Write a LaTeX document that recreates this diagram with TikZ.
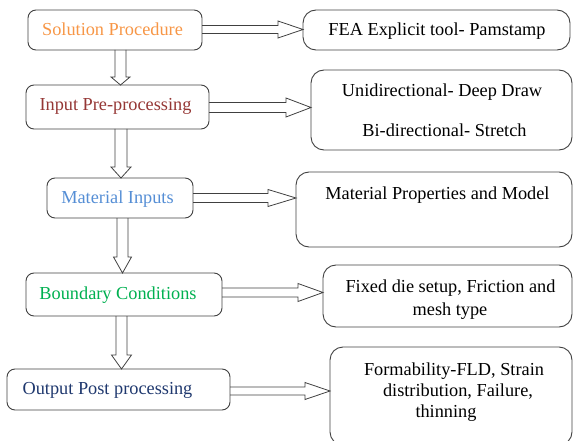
\documentclass[tikz,border=0pt]{standalone}
\usepackage{fontspec}
\setmainfont{Liberation Serif}
\usetikzlibrary{calc}
\definecolor{cOrange}{RGB}{247,150,70}
\definecolor{cRed}{RGB}{149,55,53}
\definecolor{cBlue}{RGB}{85,142,213}
\definecolor{cGreen}{RGB}{0,176,80}
\definecolor{cNavy}{RGB}{31,56,110}
\definecolor{cLine}{RGB}{64,64,64}
\newcommand\vblk[6]{%
 \draw[blk] let \p1=(#1), \p2=(#2) in
 ({#3-#5},\y1) -- ({#3-#5},\y2+#4pt) -- ({#3-#6},\y2+#4pt) -- (#3,\y2) -- ({#3+#6},\y2+#4pt) -- ({#3+#5},\y2+#4pt) -- ({#3+#5},\y1);}
\newcommand\hblk[6]{%
 \draw[blk] let \p1=(#1), \p2=(#2) in
 (\x1,{#3-#5}) -- (\x2-#4pt,{#3-#5}) -- (\x2-#4pt,{#3-#6}) -- (\x2,{#3}) -- (\x2-#4pt,{#3+#6}) -- (\x2-#4pt,{#3+#5}) -- (\x1,{#3+#5});}
\begin{document}
\begin{tikzpicture}[x=1pt,y=-1pt,
  lbox/.style={draw=cLine,line width=0.9pt,rounded corners=8pt,rectangle,inner sep=0pt,outer sep=0pt},
  rbox/.style={draw=cLine,line width=0.9pt,rounded corners=13pt,rectangle,inner sep=0pt,outer sep=0pt},
  blk/.style={draw=cLine,line width=0.8pt,line join=miter},
  lbl/.style={inner sep=0pt,anchor=base,font=\fontsize{18.3}{22}\selectfont}]
\useasboundingbox (0,0) rectangle (573,441);
% left boxes
\node[lbox,minimum width=174pt,minimum height=40pt] (b1) at (115,30) {};
\node[lbox,minimum width=183pt,minimum height=44pt] (b2) at (117.5,107) {};
\node[lbox,minimum width=146pt,minimum height=40pt] (b3) at (120,198) {};
\node[lbox,minimum width=196pt,minimum height=43pt] (b4) at (124,294.5) {};
\node[lbox,minimum width=223pt,minimum height=41pt] (b5) at (118.5,389.5) {};
% right boxes
\node[rbox,minimum width=267pt,minimum height=40pt] (r1) at (436.5,30) {};
\node[rbox,minimum width=261pt,minimum height=80pt] (r2) at (441.5,110) {};
\node[rbox,minimum width=276pt,minimum height=75pt] (r3) at (434,209.5) {};
\node[rbox,minimum width=249pt,minimum height=62pt] (r4) at (447.5,296) {};
\node[rbox,minimum width=242pt,minimum height=98pt] (r5) at (451,396) {};
% left labels
\node[lbl,text=cOrange] (t1) at (112.5,35.6) {Solution Procedure};
\node[lbl,text=cRed] (t2) at (115.5,111) {Input Pre-processing};
\node[lbl,text=cBlue] (t3) at (117.5,203.3) {Material Inputs};
\node[lbl,text=cGreen] (t4) at (118,299) {Boundary Conditions};
\node[lbl,text=cNavy] (t5) at (107.5,394.3) {Output Post processing};
% right labels
\node[lbl] (u1) at (437,35.7) {FEA Explicit tool- Pamstamp};
\node[lbl] (u2a) at (442,96.6) {Unidirectional- Deep Draw};
\node[lbl] (u2b) at (444.5,136.6) {Bi-directional- Stretch};
\node[lbl] (u3) at (437.5,200) {Material Properties and Model};
\node[lbl] (u4a) at (450.5,292) {Fixed die setup, Friction and};
\node[lbl] (u4b) at (450,315.7) {mesh type};
\node[lbl] (u5a) at (454,375.7) {Formability-FLD, Strain};
\node[lbl] (u5b) at (458,396.8) {distribution, Failure,};
\node[lbl] (u5c) at (446,417.5) {thinning};
% vertical block arrows
\vblk{b1.south}{b2.north}{120.5}{8}{5.5}{9.5}
\vblk{b2.south}{b3.north}{121}{11}{6}{10}
\vblk{b3.south}{b4.north}{122.5}{16}{5.5}{9}
\vblk{b4.south}{b5.north}{121.5}{14}{5.5}{10}
% horizontal block arrows
\hblk{b1.east}{r1.west}{29.5}{25}{4}{8.5}
\hblk{b2.east}{r2.west}{107.5}{25}{5}{9.5}
\hblk{b3.east}{r3.west}{198}{28}{4.5}{8.5}
\hblk{b4.east}{r4.west}{292.5}{25}{4.5}{9}
\hblk{b5.east}{r5.west}{391}{25}{4}{8.5}
\end{tikzpicture}
\end{document}
